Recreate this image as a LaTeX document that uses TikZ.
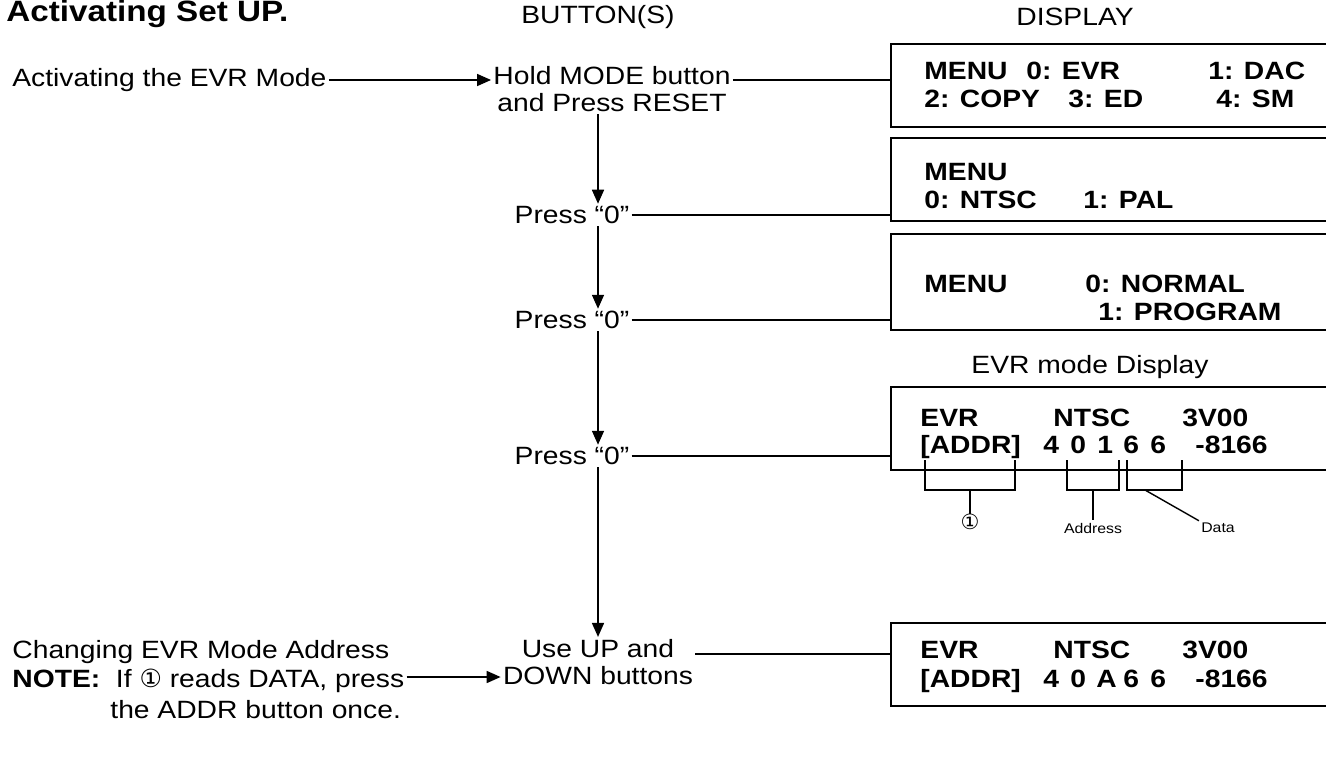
\documentclass[tikz,border=0pt]{standalone}
\usepackage{fontspec}
\setmainfont{Liberation Sans}[FakeStretch=1.13]
\newfontfamily\circfont{DejaVu Sans}
\usetikzlibrary{arrows.meta, positioning, calc}

\tikzset{
  lbl/.style={font=\fontsize{12.5}{13.5}\selectfont, inner sep=1pt},
  btn/.style={lbl, align=center},
  lcd/.style={font=\fontsize{12.5}{14}\selectfont\bfseries, anchor=west,
    inner sep=0pt, text height=9pt, text depth=2.5pt},
  dispbox/.style={draw, line width=1pt, anchor=north west,
    minimum width=240pt, minimum height=41.5pt, inner sep=0pt},
  flow/.style={-{Triangle[length=7pt,width=6pt]}, line width=0.8pt},
  wire/.style={line width=0.8pt},
  brk/.style={line width=0.7pt},
  tag/.style={font=\fontsize{7}{8}\selectfont, inner sep=1pt},
}

\begin{document}
\begin{tikzpicture}[x=0.5pt, y=-0.5pt]
  \useasboundingbox (0,0) rectangle (1326,759);
  \clip (0,0) rectangle (1326,759);

  % headings
  \node[font=\fontsize{14.7}{16}\selectfont\bfseries, anchor=west, inner sep=0pt]
    (title) at (6,14) {Activating Set UP.};
  \node[lbl] (hbtn) at (598,17) {BUTTON(S)};
  \node[lbl] (hdisp) at (1075,17) {DISPLAY};
  \coordinate (spine) at (598,0);

  % button column
  \node[lbl, anchor=west] (evr) at (10,80) {Activating the EVR Mode};
  \node[btn] (b1) at (612,89) {Hold MODE button\\and Press RESET};
  \node[btn] (b2) at (572,215) {Press “0”};
  \node[btn] (b3) at (572,320) {Press “0”};
  \node[btn] (b4) at (572,456) {Press “0”};
  \node[btn] (b5) at (598,662) {Use UP and\\DOWN buttons};

  \node[lbl, anchor=west] (chg1) at (10,652) {Changing EVR Mode Address};
  \node[lbl, anchor=west] (chg2) at (10,681)
    {\textbf{NOTE:}\ \ If {\circfont ①} reads DATA, press};
  \node[lbl, anchor=west] (chg3) at (108,710) {the ADDR button once.};

  % displays
  \node[dispbox] (d1) at (890,43) {};
  \node[dispbox] (d2) at (890,137) {};
  \node[dispbox, minimum height=48pt] (d3) at (890,233) {};
  \node[lbl] (hevr) at (1090,367) {EVR mode Display};
  \node[dispbox] (d4) at (890,386) {};
  \node[dispbox] (d5) at (890,622) {};

  \node[lcd] (d1a) at (924,73) {MENU};
  \node[lcd] (d1b) at (1026,73) {0: EVR};
  \node[lcd] (d1c) at (1208,73) {1: DAC};
  \node[lcd] (d1d) at (924,101) {2: COPY};
  \node[lcd] (d1e) at (1068,101) {3: ED};
  \node[lcd] (d1f) at (1216,101) {4: SM};

  \node[lcd] (d2a) at (924,174) {MENU};
  \node[lcd] (d2b) at (924,202) {0: NTSC};
  \node[lcd] (d2c) at (1083,202) {1: PAL};

  \node[lcd] (d3a) at (924,286) {MENU};
  \node[lcd] (d3b) at (1085,286) {0: NORMAL};
  \node[lcd] (d3c) at (1098,314) {1: PROGRAM};

  \node[lcd] (d4a) at (920,420) {EVR};
  \node[lcd] (d4b) at (1053,420) {NTSC};
  \node[lcd] (d4c) at (1182,420) {3V00};
  \node[lcd] (d4d) at (920,447) {[ADDR]};
  \node[lcd] (d4e) at (1043,447) {4};
  \node[lcd] (d4f) at (1070,447) {0};
  \node[lcd] (d4g) at (1097,447) {1};
  \node[lcd] (d4h) at (1123,447) {6};
  \node[lcd] (d4i) at (1150,447) {6};
  \node[lcd] (d4j) at (1195,447) {-8166};

  \node[lcd] (d5a) at (920,652) {EVR};
  \node[lcd] (d5b) at (1053,652) {NTSC};
  \node[lcd] (d5c) at (1182,652) {3V00};
  \node[lcd] (d5d) at (920,681) {[ADDR]};
  \node[lcd] (d5e) at (1043,681) {4};
  \node[lcd] (d5f) at (1070,681) {0};
  \node[lcd] (d5g) at (1096,681) {A};
  \node[lcd] (d5h) at (1123,681) {6};
  \node[lcd] (d5i) at (1150,681) {6};
  \node[lcd] (d5j) at (1195,681) {-8166};

  % brackets under the EVR display
  \draw[brk] (925,460) |- (1015,490) -- (1015,460);
  \draw[brk] (1067,460) |- (1119,490) -- (1119,460);
  \draw[brk] (1127,460) |- (1182,490) -- (1182,460);
  \node[tag, font=\fontsize{10.5}{11}\circfont, inner sep=0pt] (m1) at (970,522) {①};
  \node[tag] (madr) at (1093,528) {Address};
  \node[tag] (mdat) at (1218,528) {Data};
  \draw[brk] (970,490) -- (m1.north);
  \draw[brk] (1093,490) -- (madr.north);
  \draw[brk] (1145,490) -- (mdat.north west);

  % connectors
  \draw[flow] (evr.east) -- (b1.west |- evr.east);
  \draw[wire] (b1.east |- evr.east) -- (d1.west |- evr.east);
  \draw[flow] (b1.south -| spine) -- (b2.north -| spine);
  \draw[flow] (b2.south -| spine) -- (b3.north -| spine);
  \draw[flow] (b3.south -| spine) -- (b4.north -| spine);
  \draw[flow] (b4.south -| spine) -- (b5.north -| spine);
  \draw[wire] (b2.east) -- (b2.east -| d2.west);
  \draw[wire] (b3.east) -- (b3.east -| d3.west);
  \draw[wire] (b4.east) -- (b4.east -| d4.west);
  \draw[wire] ($(b5.east)+(0,-8)$) -- ($(b5.east -| d5.west)+(0,-8)$);
  \draw[flow] ($(chg2.east)+(0,-4)$) -- ($(b5.west |- chg2.east)+(0,-4)$);
\end{tikzpicture}
\end{document}
